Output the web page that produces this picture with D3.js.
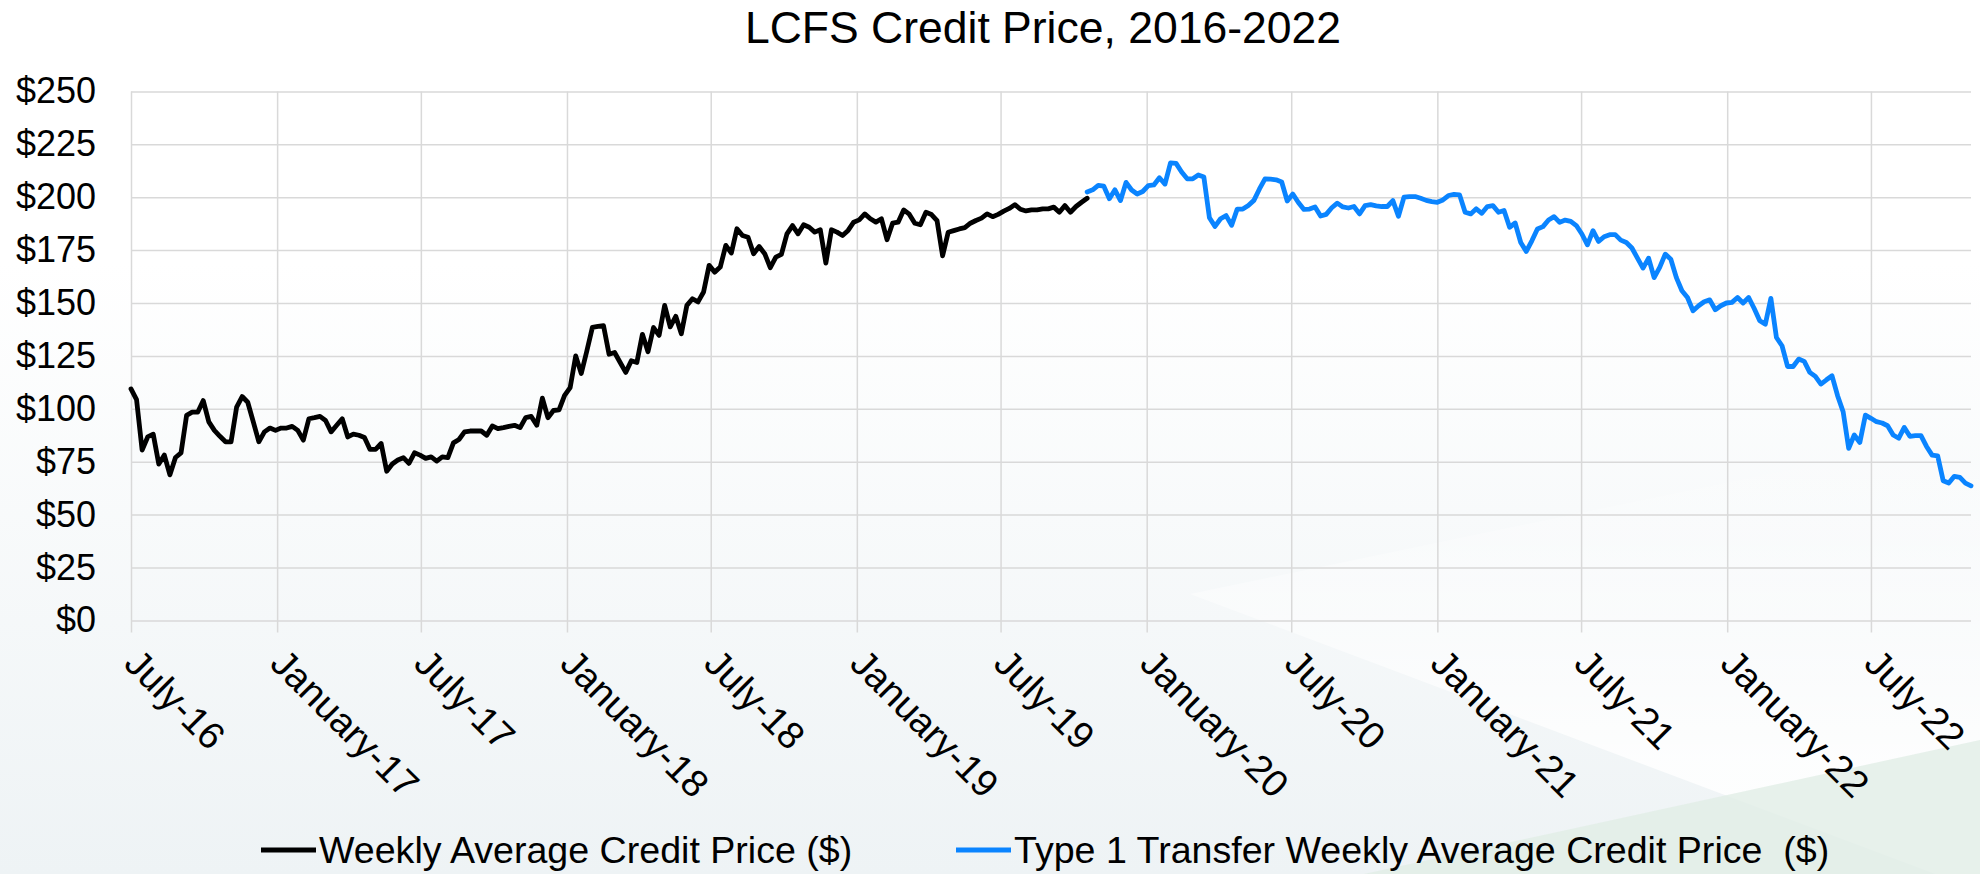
<!DOCTYPE html>
<html>
<head>
<meta charset="utf-8">
<script src="https://cdn.jsdelivr.net/npm/d3@7"></script>
<style>
  body { margin: 0; background: #fff; }
  svg { display: block; font-family: "Liberation Sans", Arial, sans-serif; }
</style>
</head>
<body>
<svg id="chart" width="1980" height="874"></svg>
<script>
// weekly averages
const weeklyAverage = [
  109.4, 104.3, 80.5, 86.7, 88.0, 73.9, 78.1, 68.8, 77.0, 79.2,
  96.9, 98.4, 98.4, 103.9, 93.8, 89.8, 87.0, 84.4, 84.4, 100.8,
  105.8, 103.1, 93.8, 84.4, 89.1, 90.9, 89.8, 90.9, 90.9, 91.7,
  89.8, 85.2, 95.3, 95.8, 96.4, 94.5, 89.1, 92.2, 95.3, 86.7,
  88.0, 87.5, 86.4, 80.8, 80.8, 83.6, 70.5, 73.9, 75.8, 76.9,
  74.2, 79.2, 78.1, 76.6, 77.3, 75.3, 77.3, 76.9, 83.9, 85.5,
  89.1, 89.5, 89.5, 89.5, 87.5, 91.9, 90.6, 91.1, 91.7, 92.2,
  91.1, 95.8, 96.4, 92.2, 105.0, 95.8, 99.2, 99.5, 106.3, 110.0,
  125.0, 116.7, 127.3, 138.5, 139.0, 139.3, 125.8, 126.6, 121.9, 117.2,
  122.7, 121.9, 135.2, 127.0, 138.4, 134.7, 148.9, 138.7, 143.7, 135.5,
  148.9, 152.0, 150.5, 155.2, 167.8, 164.6, 167.0, 177.2, 173.6, 185.1,
  181.9, 181.1, 173.3, 176.7, 173.3, 166.7, 171.7, 173.0, 182.7, 186.6,
  182.7, 187.0, 185.8, 183.5, 184.6, 168.9, 184.6, 183.5, 181.9, 184.3,
  188.2, 189.3, 192.1, 189.8, 188.2, 189.8, 179.9, 187.7, 188.2, 194.0,
  192.0, 187.7, 187.0, 192.9, 191.8, 188.9, 172.3, 183.4, 184.2, 185.0,
  185.6, 187.7, 189.0, 190.1, 192.1, 190.8, 191.9, 193.4, 194.7, 196.5,
  194.3, 193.5, 194.0, 194.0, 194.5, 194.5, 195.3, 192.9, 196.0, 192.9,
  195.6, 197.6, 199.5
];
const type1Average = [
  202.5, 203.5, 205.6, 205.2, 199.3, 203.5, 198.4, 207.0, 203.4, 201.5,
  202.7, 205.5, 205.8, 209.2, 206.2, 216.2, 216.0, 211.9, 208.7, 208.7,
  210.5, 209.5, 190.3, 186.2, 189.8, 191.3, 186.7, 194.4, 194.4, 196.1,
  198.5, 203.9, 208.7, 208.5, 208.2, 207.2, 198.2, 201.5, 197.5, 194.2,
  194.4, 195.4, 191.1, 191.9, 195.0, 197.2, 195.4, 194.9, 195.6, 192.1,
  196.0, 196.5, 195.9, 195.6, 195.6, 198.4, 191.0, 200.0, 200.3, 200.3,
  199.5, 198.5, 197.9, 197.6, 198.7, 200.8, 201.3, 201.1, 192.9, 192.1,
  194.5, 192.4, 195.6, 196.0, 192.9, 193.7, 185.8, 187.8, 178.6, 174.4,
  179.4, 185.0, 186.1, 189.2, 190.8, 188.1, 189.2, 188.6, 186.6, 182.6,
  177.5, 184.2, 179.1, 181.3, 182.3, 182.3, 179.7, 178.6, 176.0, 171.2,
  166.5, 171.2, 162.0, 166.8, 173.1, 170.7, 162.0, 155.8, 152.6, 146.3,
  148.7, 150.6, 151.5, 146.8, 148.7, 150.0, 150.3, 152.6, 150.0, 152.6,
  147.4, 141.6, 140.0, 152.2, 133.7, 129.8, 120.0, 120.0, 123.5, 122.4,
  117.2, 115.3, 111.7, 113.7, 115.6, 106.2, 98.6, 81.3, 87.6, 84.1,
  97.0, 95.5, 93.9, 93.3, 92.0, 87.6, 86.1, 91.2, 87.0, 87.3,
  87.3, 82.2, 78.1, 77.8, 66.0, 64.9, 68.1, 67.6, 64.9, 63.6
];
const seriesNames = ["Weekly Average Credit Price ($)", "Type 1 Transfer Weekly Average Credit Price  ($)"];
const seriesColors = ["#000000", "#0a84ff"];
const xTickLabels = [
  "July-16", "January-17", "July-17", "January-18", "July-18", "January-19", "July-19",
  "January-20", "July-20", "January-21", "July-21", "January-22", "July-22"
];
const yTicks = [0, 25, 50, 75, 100, 125, 150, 175, 200, 225, 250];

const blackStart = new Date(2016, 6, 1);
const blueStart = d3.timeDay.offset(blackStart, 7 * (weeklyAverage.length - 1));

const toPoints = (start, values) =>
  values.map((v, i) => ({ date: d3.timeDay.offset(start, 7 * i), value: v }));

const black = toPoints(blackStart, weeklyAverage);
const blue = toPoints(blueStart, type1Average);

const svg = d3.select("#chart");
const plotLeft = 131, plotRight = 1971, plotTop = 91.4, plotBottom = 620.4;

// slide background
const defs = svg.append("defs");
const grad = defs.append("linearGradient").attr("id", "bg").attr("x1", 0).attr("y1", 0).attr("x2", 0).attr("y2", 1);
grad.append("stop").attr("offset", "0.3").attr("stop-color", "#ffffff");
grad.append("stop").attr("offset", "1").attr("stop-color", "#eef3f5");
const fade = defs.append("linearGradient").attr("id", "fade")
  .attr("gradientUnits", "userSpaceOnUse").attr("x1", 0).attr("y1", 430).attr("x2", 0).attr("y2", 760);
fade.append("stop").attr("offset", "0").attr("stop-color", "#ffffff").attr("stop-opacity", 0);
fade.append("stop").attr("offset", "1").attr("stop-color", "#ffffff").attr("stop-opacity", 0.85);
svg.append("rect").attr("width", 1980).attr("height", 874).attr("fill", "url(#bg)");
svg.append("polygon").attr("points", "1190,594 1980,430 1980,874 1935,874").attr("fill", "url(#fade)");
svg.append("polygon").attr("points", "1364,874 1980,740 1980,874").attr("fill", "#e1eee6").attr("opacity", 0.8);

const x = d3.scaleTime()
  .domain([blackStart, blue[blue.length - 1].date])
  .range([plotLeft, plotRight]);
const y = d3.scaleLinear().domain([0, 250]).range([plotBottom, plotTop]);

const parseTick = d3.timeParse("%B-%y");
const tickDates = xTickLabels.map(parseTick);

// horizontal grid + y labels
const yAxis = svg.append("g")
  .attr("transform", `translate(${plotLeft},0)`)
  .call(d3.axisLeft(y).tickValues(yTicks).tickSize(-(plotRight - plotLeft)).tickPadding(35).tickFormat((d) => "$" + d));
yAxis.select(".domain").remove();
yAxis.selectAll(".tick line").attr("stroke", "#d9d9d9").attr("stroke-width", 1.5);
yAxis.selectAll(".tick text").attr("font-size", 36).attr("fill", "#000").attr("font-family", "Liberation Sans, Arial, sans-serif");

// vertical grid, tick marks and rotated labels
const xAxis = svg.append("g")
  .attr("transform", `translate(0,${plotBottom + 12})`)
  .call(d3.axisBottom(x).tickValues(tickDates).tickSize(-(plotBottom + 12 - plotTop)).tickFormat((d, i) => xTickLabels[i]));
xAxis.select(".domain").remove();
xAxis.selectAll(".tick line").attr("stroke", "#d9d9d9").attr("stroke-width", 1.5);
xAxis.selectAll(".tick text")
  .attr("x", 0).attr("y", 0).attr("dy", 0)
  .attr("text-anchor", "start")
  .attr("transform", "translate(-9,33) rotate(45)")
  .attr("font-size", 38).attr("fill", "#000").attr("font-family", "Liberation Sans, Arial, sans-serif");

const line = d3.line().x((d) => x(d.date)).y((d) => y(d.value));

[black, blue].forEach((data, k) => {
  svg.append("path")
    .datum(data)
    .attr("fill", "none")
    .attr("stroke", seriesColors[k])
    .attr("stroke-width", 4.8)
    .attr("stroke-linejoin", "round")
    .attr("stroke-linecap", "round")
    .attr("d", line);
});

svg.append("text")
  .attr("x", 1043).attr("y", 43)
  .attr("text-anchor", "middle")
  .attr("font-size", 44.5)
  .text("LCFS Credit Price, 2016-2022");

// legend
const legendX = [261, 956];
const legend = svg.append("g").attr("transform", "translate(0,850)");
seriesNames.forEach((name, k) => {
  legend.append("line")
    .attr("x1", legendX[k]).attr("x2", legendX[k] + 55)
    .attr("stroke", seriesColors[k]).attr("stroke-width", 5);
  legend.append("text")
    .attr("x", legendX[k] + 58).attr("dy", "0.35em")
    .attr("font-size", 37.6)
    .style("white-space", "pre")
    .text(name);
});
</script>
</body>
</html>
